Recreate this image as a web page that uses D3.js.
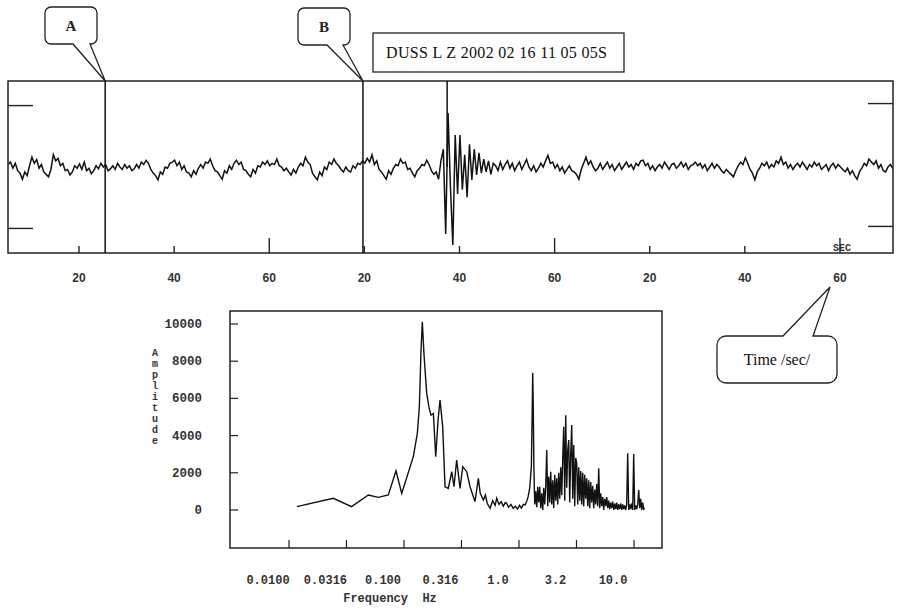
<!DOCTYPE html>
<html><head><meta charset="utf-8">
<script src="https://cdn.jsdelivr.net/npm/d3@7"></script>
<style>body{margin:0;background:#fff}svg{display:block}</style>
</head><body>
<svg id="c" width="903" height="612"></svg>
<script>
// ---------- DATA ----------
const stationTitle = "DUSS L Z 2002 02 16 11 05 05S";
const timeTicks = [20, 40, 60, 80, 100, 120, 140, 160, 180];
const timeTickLabels = ["20","40","60","20","40","60","20","40","60"];
const markerLabels = ["A", "B"];
const markerTimes = [25.5, 79.7];
const eventTime = 97.4;
const sampleStart = 5.1, sampleStep = 0.5;
const seismogram = [
4,8,-2,6,-6,-10,-20,-8,-14,2,
16,6,12,-2,4,-8,-12,-16,-4,20,
10,14,2,6,-6,-4,-13,-8,2,-2,
5,-4,8,-6,-2,-11,-6,2,-3,6,
0,4,-6,-3,2,-4,6,0,-4,4,
-2,2,-6,-3,4,-2,8,4,11,6,
-4,-10,-14,-21,-8,-12,0,-2,6,8,
11,2,8,-4,2,-8,-10,-16,-6,-12,
-2,4,-2,8,6,13,2,-6,-8,-14,
-20,-6,-10,2,-4,6,11,4,8,-4,
-6,-12,-16,-4,-10,2,0,8,4,10,
2,6,4,13,2,0,-6,-2,-8,-13,
-4,-10,0,6,2,16,8,4,-10,-16,
-21,-8,-14,0,-4,8,4,13,6,2,
-4,-8,0,-6,-8,2,-2,6,4,10,
6,14,8,20,4,10,-4,-8,-14,-20,
-6,-12,-2,4,2,13,6,8,-4,-2,
-10,-16,-6,-2,4,2,11,4,-6,-12,
-8,-20,10,29,-109,88,-33,-127,52,-44,
52,-37,20,-49,37,-21,29,-13,23,-10,
13,-8,10,-12,6,2,-6,8,-4,4,
10,-2,6,-6,2,8,-4,4,12,0,
-6,2,-8,-2,6,0,10,19,6,8,
-2,4,-6,0,-10,-4,2,-6,-8,-12,
-20,-4,6,16,4,10,0,-6,-2,6,
-4,2,8,-2,4,-6,0,6,-4,2,
8,0,4,-4,6,2,10,11,2,6,
-4,2,-6,0,4,-2,8,2,-4,4,
6,-2,2,8,0,6,-4,2,4,8,
2,6,-2,4,-6,0,6,-2,4,0,
-6,-10,-4,-8,-12,-16,-6,2,8,4,
15,6,-4,-10,-21,-8,-2,6,2,8,
-2,4,0,10,6,16,4,8,-2,4,
-4,2,6,0,8,2,-4,4,0,8,
2,6,-4,0,4,-6,2,6,-2,4,
0,-4,-8,-2,-12,-6,-14,-20,-8,-2,
6,2,13,8,4,10,-2,4,-6,-8,
0,4,-2,6];
const seisScaleTicks = [-100, 100];

const freqTicks = [0.01, 0.0316, 0.1, 0.316, 1.0, 3.16, 10.0];
const freqTickLabels = ["0.0100","0.0316","0.100","0.316","1.0","3.2","10.0"];
const ampTicks = [0, 2000, 4000, 6000, 8000, 10000];
const spectrumFreq = [
0.0117,0.0243,0.035,0.049,0.0598,0.073,0.0852,0.0955,0.1205,0.1306,
0.136,0.1406,0.1443,0.149,0.1575,0.165,0.1717,0.18,0.1887,0.1975,
0.2056,0.217,0.2273,0.2427,0.26,0.272,0.287,0.307,0.324,0.351,
0.375,0.414,0.443,0.46,0.49,0.51,0.53,0.56,0.59,0.62,
0.64,0.67,0.70,0.73,0.76,0.78,0.81,0.85,0.89,0.93,
0.97,1.01,1.05,1.09,1.13,1.17,1.20,1.24,1.28,1.30,
1.315,1.33,1.345,1.36,
1.370,1.398,1.426,1.455,1.484,1.514,1.545,1.576,1.608,1.640,
1.673,1.707,1.742,1.777,1.813,1.850,1.887,1.925,1.964,2.004,
2.044,2.085,2.127,2.170,2.214,2.259,2.305,2.351,2.399,2.447,
2.497,2.547,2.599,2.651,2.705,2.759,2.815,2.872,2.930,2.989,
3.050,3.111,3.174,3.238,3.304,3.371,3.439,3.508,3.579,3.652,
3.725,3.801,3.877,3.956,4.036,4.117,4.201,4.285,4.372,4.460,
4.551,4.643,4.736,4.832,4.930,5.030,5.131,5.235,5.341,5.449,
5.559,5.671,5.786,5.903,6.022,6.144,6.268,6.395,6.524,6.656,
6.790,6.928,7.068,7.211,7.356,7.505,7.657,7.811,7.969,8.130,
8.295,8.462,8.633,8.808,8.986,9.168,9.353,9.542,9.735,9.931,
10.13,10.34,10.55,10.76,10.98,11.20,11.43,11.66,11.89,12.13,12.38];
const spectrumAmp = [
180,630,180,806,680,806,2110,895,2870,4120,
5550,8600,10120,8420,6270,5500,5100,5190,2870,4800,
5910,4480,1250,1160,2060,1250,2690,1160,2330,2060,
1250,450,1700,900,540,800,350,90,500,250,
630,300,450,200,400,360,150,300,90,200,
50,250,100,300,270,500,715,1200,2330,5000,
7380,5550,2500,1075,
300,1000,150,1250,400,1250,100,900,0,1200,
300,1300,3230,200,1800,400,2060,300,1600,100,
1900,500,1700,300,2000,600,2300,800,2800,4480,
500,5100,1200,3200,3760,400,3000,4570,600,3500,
200,2800,2510,300,2300,500,2100,300,2000,200,
1900,600,1700,200,1600,100,1500,400,1300,100,
1100,300,1400,200,2240,100,900,200,700,0,
600,200,700,100,500,50,400,100,450,0,
350,50,400,0,300,50,350,0,300,50,
250,0,300,3050,0,300,50,350,0,3010,
0,250,50,300,1075,100,600,0,400,50,100];

// ---------- DRAW ----------
const svg = d3.select("#c");
svg.append("rect").attr("width",903).attr("height",612).attr("fill","#fff");

// top panel
const T = {l:8, r:893, t:81, b:253};
const xT = d3.scaleLinear().domain([5.07, 191.15]).range([T.l, T.r]);
const yT = d3.scaleLinear().domain([-140, 140]).range([T.b, T.t]);

svg.append("clipPath").attr("id","clipT").append("rect")
  .attr("x",T.l).attr("y",T.t).attr("width",T.r-T.l).attr("height",T.b-T.t);

const seisLine = d3.line()
  .x((d,i)=>xT(sampleStart + i*sampleStep))
  .y(d=>yT(d));
svg.append("path").datum(seismogram).attr("clip-path","url(#clipT)")
  .attr("d",seisLine).attr("fill","none").attr("stroke","#111").attr("stroke-width",1.5)
  .attr("stroke-linejoin","miter");

svg.append("rect").attr("x",T.l).attr("y",T.t).attr("width",T.r-T.l).attr("height",T.b-T.t)
  .attr("fill","none").attr("stroke","#222").attr("stroke-width",1.5);

// amplitude scale ticks (left & right)
seisScaleTicks.forEach(v=>{
  svg.append("line").attr("x1",T.l).attr("x2",T.l+25).attr("y1",yT(v)).attr("y2",yT(v))
    .attr("stroke","#222").attr("stroke-width",1.4);
  svg.append("line").attr("x1",T.r-25).attr("x2",T.r).attr("y1",yT(v)-2).attr("y2",yT(v)-2)
    .attr("stroke","#222").attr("stroke-width",1.4);
});

// time ticks
const gx = svg.append("g");
timeTicks.forEach((t,i)=>{
  const len = (timeTickLabels[i]==="60") ? 15 : 7;
  gx.append("line").attr("x1",xT(t)).attr("x2",xT(t)).attr("y1",T.b).attr("y2",T.b-len)
    .attr("stroke","#222").attr("stroke-width",1.4);
  gx.append("text").attr("x",xT(t)).attr("y",282).attr("text-anchor","middle")
    .attr("font-family","Liberation Sans, Arial, sans-serif").attr("font-weight","bold")
    .attr("font-size",12).attr("fill","#333").text(timeTickLabels[i]);
});
svg.append("text").attr("x",842).attr("y",251).attr("text-anchor","middle")
  .attr("font-family","Liberation Mono, monospace").attr("font-weight","bold")
  .attr("font-size",10).attr("fill","#333").text("SEC");

// marker lines
markerTimes.forEach(t=>{
  svg.append("line").attr("x1",xT(t)).attr("x2",xT(t)).attr("y1",T.t).attr("y2",T.b)
    .attr("stroke","#111").attr("stroke-width",1.5);
});
svg.append("line").attr("x1",xT(eventTime)).attr("x2",xT(eventTime)).attr("y1",T.t).attr("y2",yT(0))
  .attr("stroke","#111").attr("stroke-width",1.5);

// callout bubbles
function bubbleDown(x0,y0,x1,y1,r,b1,b2,tx,ty){
  return `M${x0+r},${y0}H${x1-r}A${r},${r} 0 0 1 ${x1},${y0+r}V${y1-r}A${r},${r} 0 0 1 ${x1-r},${y1}`+
    `H${b2}L${tx},${ty}L${b1},${y1}H${x0+r}A${r},${r} 0 0 1 ${x0},${y1-r}V${y0+r}A${r},${r} 0 0 1 ${x0+r},${y0}Z`;
}
function bubbleUp(x0,y0,x1,y1,r,b1,b2,tx,ty){
  return `M${x0+r},${y0}H${b1}L${tx},${ty}L${b2},${y0}H${x1-r}A${r},${r} 0 0 1 ${x1},${y0+r}V${y1-r}`+
    `A${r},${r} 0 0 1 ${x1-r},${y1}H${x0+r}A${r},${r} 0 0 1 ${x0},${y1-r}V${y0+r}A${r},${r} 0 0 1 ${x0+r},${y0}Z`;
}
const bubbles = [{x0:45,y0:7,x1:97,y1:44,b1:73,b2:90},{x0:298,y0:8,x1:350,y1:45,b1:327,b2:343}];
bubbles.forEach((b,i)=>{
  svg.append("path").attr("d",bubbleDown(b.x0,b.y0,b.x1,b.y1,6,b.b1,b.b2,xT(markerTimes[i]),T.t))
    .attr("fill","#fff").attr("stroke","#222").attr("stroke-width",1.3);
  svg.append("text").attr("x",(b.x0+b.x1)/2).attr("y",(b.y0+b.y1)/2+5).attr("text-anchor","middle")
    .attr("font-family","Liberation Serif, Times New Roman, serif").attr("font-weight","bold")
    .attr("font-size",15).attr("fill","#222").text(markerLabels[i]);
});

// title box
svg.append("rect").attr("x",373).attr("y",33).attr("width",251).attr("height",39)
  .attr("fill","#fff").attr("stroke","#222").attr("stroke-width",1.3);
svg.append("text").attr("x",386).attr("y",58)
  .attr("font-family","Liberation Serif, Times New Roman, serif")
  .attr("font-size",16).attr("fill","#111").attr("textLength",221).text(stationTitle);

// time callout
svg.append("path").attr("d",bubbleUp(717,336,837,383,9,783,813,830,287))
  .attr("fill","#fff").attr("stroke","#222").attr("stroke-width",1.3);
svg.append("text").attr("x",777).attr("y",365).attr("text-anchor","middle")
  .attr("font-family","Liberation Serif, Times New Roman, serif")
  .attr("font-size",16).attr("fill","#111").text("Time /sec/");

// bottom panel
const B = {l:230, r:662, t:311, b:548};
const xB = d3.scaleLog().domain([0.00307, 17.5]).range([B.l, B.r]);
const yB = d3.scaleLinear().domain([-2043, 10699]).range([B.b, B.t]);

const specLine = d3.line().x((d,i)=>xB(spectrumFreq[i])).y(d=>yB(d));
svg.append("path").datum(spectrumAmp).attr("d",specLine)
  .attr("fill","none").attr("stroke","#111").attr("stroke-width",1.4);

svg.append("rect").attr("x",B.l).attr("y",B.t).attr("width",B.r-B.l).attr("height",B.b-B.t)
  .attr("fill","none").attr("stroke","#222").attr("stroke-width",1.5);

ampTicks.forEach(v=>{
  svg.append("line").attr("x1",B.l).attr("x2",B.l+8).attr("y1",yB(v)).attr("y2",yB(v))
    .attr("stroke","#222").attr("stroke-width",1.2);
  svg.append("text").attr("x",202).attr("y",yB(v)+4).attr("text-anchor","end")
    .attr("font-family","Liberation Mono, Courier New, monospace").attr("font-weight","bold")
    .attr("font-size",12.5).attr("fill","#333").text(v);
});
freqTicks.forEach((f,i)=>{
  svg.append("line").attr("x1",xB(f)).attr("x2",xB(f)).attr("y1",B.b).attr("y2",B.b-8)
    .attr("stroke","#222").attr("stroke-width",1.2);
  svg.append("text").attr("x",xB(f)-21).attr("y",584).attr("text-anchor","middle")
    .attr("font-family","Liberation Mono, Courier New, monospace").attr("font-weight","bold")
    .attr("font-size",12).attr("fill","#333").text(freqTickLabels[i]);
});
svg.append("text").attr("x",390).attr("y",602).attr("text-anchor","middle")
  .attr("font-family","Liberation Mono, Courier New, monospace").attr("font-weight","bold")
  .attr("font-size",12).attr("fill","#333").style("white-space","pre").text("Frequency  Hz");

const ampLabel = "Amplitude".split("");
svg.append("text").attr("font-family","Liberation Mono, Courier New, monospace").attr("font-weight","bold")
  .attr("font-size",10).attr("fill","#333").attr("text-anchor","middle")
  .selectAll("tspan").data(ampLabel).join("tspan")
  .attr("x",155).attr("y",(d,i)=>356 + i*11).text(d=>d);
</script>
</body></html>
